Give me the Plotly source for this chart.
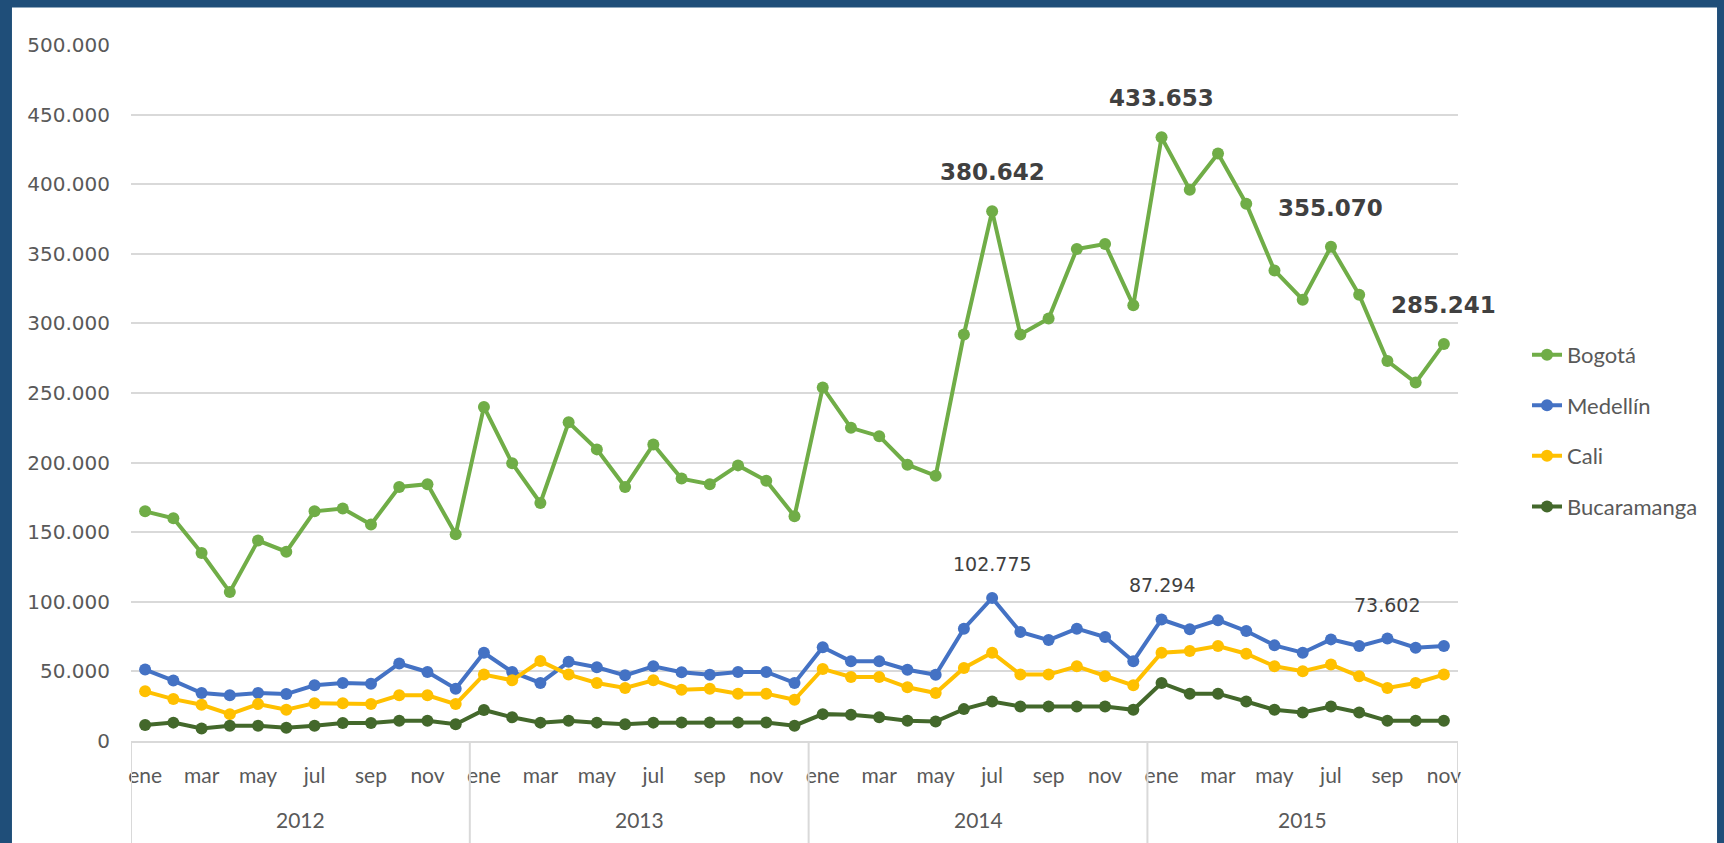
import plotly.graph_objects as go

# ---------------- data ----------------
months = ["ene", "feb", "mar", "abr", "may", "jun", "jul", "ago", "sep", "oct", "nov", "dic"]
years = ["2012", "2013", "2014", "2015"]
months_per_year = [12, 12, 12, 11]

bogota = [165000, 160000, 135000, 107000, 144000, 136000, 165000, 167000, 155500, 182500, 184500, 148500,
          240000, 199500, 171000, 229000, 209500, 182500, 213000, 188500, 184500, 198000, 187000, 161500,
          254000, 225000, 219000, 198500, 190500, 292000, 380642, 292000, 303500, 353500, 357000, 313000,
          433653, 396000, 422000, 386000, 338000, 317000, 355070, 320500, 273000, 257500, 285241]
medellin = [51300, 43400, 34500, 32800, 34500, 33700, 40000, 41700, 41200, 55700, 49600, 37600,
            63400, 49600, 41700, 56900, 53000, 47200, 53700, 49400, 47600, 49600, 49600, 41700,
            67400, 57300, 57300, 51200, 47600, 80700, 102775, 78300, 72500, 80700, 74700, 57300,
            87294, 80300, 86800, 79000, 68700, 63400, 73000, 68200, 73602, 67000, 68200]
cali = [35700, 30100, 26000, 19300, 26500, 22400, 27200, 27200, 26500, 32800, 32800, 26500,
        47700, 43600, 57400, 47700, 41700, 38100, 43600, 36900, 37600, 34000, 34000, 29600,
        51800, 46000, 46000, 38600, 34500, 52500, 63400, 47700, 47700, 53700, 46500, 40000,
        63400, 64600, 68200, 62700, 53700, 50100, 54900, 46500, 38100, 41700, 47700]
bucaramanga = [11500, 13200, 9000, 11000, 11000, 9500, 11000, 13000, 13000, 14600, 14600, 12000,
               22300, 17000, 13200, 14600, 13200, 12000, 13200, 13300, 13300, 13300, 13300, 11000,
               19300, 18800, 17100, 14500, 14000, 22900, 28400, 24800, 24800, 24800, 24800, 22400,
               41700, 34000, 34000, 28400, 22400, 20500, 24800, 20500, 14500, 14500, 14500]

series_names = ["Bogotá", "Medellín", "Cali", "Bucaramanga"]
series_values = [bogota, medellin, cali, bucaramanga]
series_colors = ["#70AD47", "#4472C4", "#FFC000", "#43682B"]

bogota_label_idx = [30, 36, 42, 46]
medellin_label_idx = [30, 36, 44]

y_ticks = [0, 50000, 100000, 150000, 200000, 250000, 300000, 350000, 400000, 450000, 500000]

# ---------------- derived ----------------
categories = []
month_of = []
for yr, n in zip(years, months_per_year):
    for mi in range(n):
        categories.append(f"{months[mi]} {yr}")
        month_of.append(mi)
x = list(range(len(categories)))

tickvals = [i for i in x if month_of[i] % 2 == 0]
ticktext = [months[month_of[i]] for i in tickvals]

bounds = [-0.5]
for n in months_per_year:
    bounds.append(bounds[-1] + n)
year_centers = [(bounds[k] + bounds[k + 1]) / 2 for k in range(len(years))]


def fmt(v):
    return f"{v:,}".replace(",", ".")


fig = go.Figure()
for k, (name, vals, col) in enumerate(zip(series_names, series_values, series_colors)):
    fig.add_trace(go.Scatter(
        x=x, y=vals, name=name, mode="lines+markers",
        line=dict(color=col, width=4),
        marker=dict(color=col, size=12),
        legendgroup=f"g{k}",
        customdata=categories,
        hovertemplate="%{customdata}: %{y}<extra>" + name + "</extra>",
    ))

annotations = []
for i in bogota_label_idx:
    annotations.append(dict(x=i, y=bogota[i], xref="x", yref="y", text=fmt(bogota[i]),
                            showarrow=False, yshift=39, yanchor="middle",
                            font=dict(family="DejaVu Sans", size=23, color="#404040", weight="bold")))
for i in medellin_label_idx:
    annotations.append(dict(x=i, y=medellin[i], xref="x", yref="y", text=fmt(medellin[i]),
                            showarrow=False, yshift=34, yanchor="middle",
                            font=dict(family="DejaVu Sans", size=19, color="#404040")))
for yc, yr in zip(year_centers, years):
    annotations.append(dict(x=yc, y=-0.113, xref="x", yref="paper", text=yr, showarrow=False,
                            yanchor="middle", font=dict(family="Lato", size=21, color="#595959")))

shapes = [dict(type="rect", xref="paper", yref="paper", x0=-0.0897, x1=1.1952, y0=-0.2, y1=1.054,
               fillcolor="white", line=dict(width=0), layer="below")]
for b in bounds:
    shapes.append(dict(type="line", xref="x", yref="paper", x0=b, x1=b, y0=0, y1=-0.16,
                       line=dict(color="#D9D9D9", width=2), layer="above"))

fig.update_layout(
    width=1724, height=843, autosize=False,
    margin=dict(l=131, r=266, t=45, b=102, pad=0),
    paper_bgcolor="#1F4E79", plot_bgcolor="white",
    separators=",.",
    showlegend=True,
    legend=dict(x=1.052, y=0.585, xanchor="left", yanchor="top",
                font=dict(family="Lato", size=22, color="#595959"),
                tracegroupgap=19, bgcolor="rgba(0,0,0,0)"),
    annotations=annotations,
    shapes=shapes,
    xaxis=dict(range=[-0.5, len(x) - 0.5], tickvals=tickvals, ticktext=ticktext,
               showgrid=False, zeroline=False, showline=True, linecolor="#D9D9D9", linewidth=2,
               ticks="", ticklabelstandoff=15,
               tickfont=dict(family="Lato", size=21, color="#595959")),
    yaxis=dict(range=[0, 500000], tickvals=y_ticks, tickformat=",.0f",
               showgrid=True, gridcolor="#D9D9D9", gridwidth=2, zeroline=False,
               showline=False, ticks="", ticklabelstandoff=20,
               tickfont=dict(family="DejaVu Sans", size=20, color="#595959")),
)

fig.write_html("out.html", config={"displayModeBar": False},
               post_script="document.body.style.margin='0';document.body.style.overflow='hidden';")
